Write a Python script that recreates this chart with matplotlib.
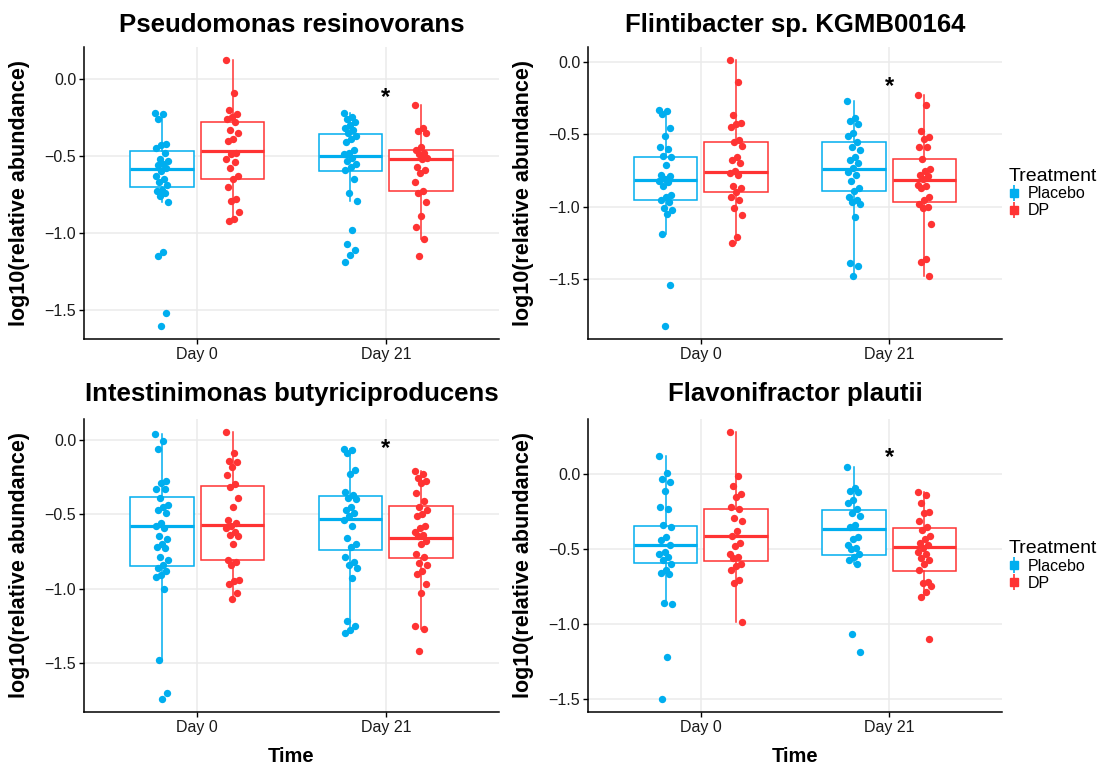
import numpy as np
import matplotlib
matplotlib.use("Agg")
import matplotlib.pyplot as plt
from matplotlib.lines import Line2D

plt.rcParams['font.family'] = ['Liberation Sans', 'DejaVu Sans']

# figure size in pixels
W, H = 1106, 767

days = ['Day 0', 'Day 21']
treatments = ['Placebo', 'DP']
blue = '#00AEEF'
red = '#FF3333'

titles = ['Pseudomonas resinovorans', 'Flintibacter sp. KGMB00164',
          'Intestinimonas butyriciproducens', 'Flavonifractor plautii']

# ---- points (log10 relative abundance) ----
# panel 1: Pseudomonas resinovorans
p1_pla_d0 = [-0.22, -0.23, -0.26, -0.42, -0.43, -0.45, -0.48, -0.52, -0.53, -0.55, -0.56, -0.58, -0.60,
             -0.63, -0.65, -0.67, -0.69, -0.72, -0.73, -0.74, -0.76, -0.80, -1.12, -1.15, -1.52, -1.60]
p1_dp_d0 = [0.12, -0.09, -0.20, -0.23, -0.25, -0.26, -0.28, -0.33, -0.35, -0.39, -0.40, -0.48, -0.49,
            -0.52, -0.54, -0.58, -0.63, -0.65, -0.70, -0.78, -0.79, -0.86, -0.91, -0.92]
p1_pla_d21 = [-0.22, -0.25, -0.26, -0.28, -0.30, -0.32, -0.33, -0.35, -0.37, -0.39, -0.41, -0.46, -0.48,
              -0.49, -0.51, -0.53, -0.55, -0.57, -0.59, -0.65, -0.74, -0.79, -0.98, -1.07, -1.11, -1.14, -1.19]
p1_dp_d21 = [-0.17, -0.32, -0.34, -0.35, -0.44, -0.46, -0.48, -0.49, -0.51, -0.52, -0.57, -0.59, -0.61,
             -0.67, -0.73, -0.74, -0.80, -0.89, -0.96, -1.04, -1.15]

# panel 2: Flintibacter sp. KGMB00164
p2_pla_d0 = [-0.33, -0.34, -0.36, -0.46, -0.51, -0.59, -0.60, -0.65, -0.66, -0.71, -0.78, -0.79, -0.81,
             -0.82, -0.83, -0.86, -0.92, -0.93, -0.95, -0.97, -1.01, -1.02, -1.05, -1.19, -1.54, -1.82]
p2_dp_d0 = [0.01, -0.14, -0.37, -0.42, -0.43, -0.45, -0.54, -0.55, -0.58, -0.66, -0.68, -0.70, -0.75,
            -0.77, -0.78, -0.86, -0.87, -0.90, -0.93, -0.95, -1.01, -1.06, -1.21, -1.25]
p2_pla_d21 = [-0.27, -0.39, -0.41, -0.43, -0.49, -0.51, -0.55, -0.59, -0.61, -0.66, -0.68, -0.70, -0.73,
              -0.76, -0.78, -0.82, -0.87, -0.89, -0.93, -0.95, -0.97, -0.98, -1.07, -1.39, -1.41, -1.48]
p2_dp_d21 = [-0.23, -0.30, -0.48, -0.52, -0.53, -0.59, -0.59, -0.67, -0.74, -0.75, -0.78, -0.79, -0.81,
             -0.85, -0.86, -0.87, -0.93, -0.95, -0.98, -1.00, -1.01, -1.12, -1.36, -1.38, -1.48]

# panel 3: Intestinimonas butyriciproducens
p3_pla_d0 = [0.04, -0.01, -0.06, -0.28, -0.29, -0.33, -0.33, -0.39, -0.44, -0.45, -0.47, -0.49, -0.56,
             -0.58, -0.59, -0.65, -0.67, -0.70, -0.72, -0.73, -0.79, -0.81, -0.84, -0.86, -0.88, -0.91,
             -0.92, -1.00, -1.48, -1.70, -1.74]
p3_dp_d0 = [0.05, -0.09, -0.14, -0.15, -0.18, -0.24, -0.30, -0.32, -0.39, -0.45, -0.54, -0.56, -0.58,
            -0.59, -0.62, -0.64, -0.65, -0.70, -0.81, -0.82, -0.84, -0.94, -0.95, -0.97, -1.03, -1.07]
p3_pla_d21 = [-0.06, -0.07, -0.09, -0.20, -0.23, -0.35, -0.37, -0.39, -0.40, -0.45, -0.47, -0.49, -0.51,
              -0.54, -0.58, -0.66, -0.70, -0.72, -0.79, -0.82, -0.84, -0.86, -0.93, -1.22, -1.25, -1.28, -1.30]
p3_dp_d21 = [-0.21, -0.23, -0.26, -0.28, -0.29, -0.36, -0.41, -0.45, -0.47, -0.50, -0.51, -0.58, -0.59,
             -0.62, -0.64, -0.65, -0.68, -0.70, -0.77, -0.79, -0.83, -0.84, -0.88, -0.90, -0.97, -1.03,
             -1.25, -1.27, -1.42]

# panel 4: Flavonifractor plautii
p4_pla_d0 = [0.12, 0.01, -0.03, -0.05, -0.11, -0.22, -0.23, -0.34, -0.35, -0.42, -0.44, -0.47, -0.52,
             -0.53, -0.55, -0.57, -0.60, -0.64, -0.66, -0.67, -0.86, -0.87, -1.22, -1.50]
p4_dp_d0 = [0.28, -0.01, -0.08, -0.13, -0.15, -0.22, -0.23, -0.29, -0.31, -0.38, -0.41, -0.46, -0.48,
            -0.53, -0.55, -0.56, -0.60, -0.61, -0.64, -0.71, -0.73, -0.99]
p4_pla_d21 = [0.05, -0.09, -0.11, -0.12, -0.17, -0.19, -0.23, -0.26, -0.28, -0.34, -0.35, -0.42, -0.43,
              -0.47, -0.49, -0.50, -0.53, -0.55, -0.57, -0.60, -1.07, -1.19]
p4_dp_d21 = [-0.12, -0.14, -0.19, -0.25, -0.26, -0.31, -0.35, -0.37, -0.41, -0.43, -0.46, -0.47, -0.49,
             -0.52, -0.53, -0.56, -0.57, -0.60, -0.64, -0.72, -0.73, -0.75, -0.79, -0.82, -1.10]

# ---- box statistics ----
# order: Placebo Day 0, DP Day 0, Placebo Day 21, DP Day 21
p1_q1 = [-0.70, -0.65, -0.60, -0.73]
p1_med = [-0.585, -0.47, -0.50, -0.52]
p1_q3 = [-0.47, -0.28, -0.355, -0.46]
p1_lo = [-0.80, -0.92, -0.79, -1.04]
p1_hi = [-0.22, 0.12, -0.22, -0.17]

p2_q1 = [-0.956, -0.90, -0.894, -0.968]
p2_med = [-0.816, -0.76, -0.742, -0.816]
p2_q3 = [-0.654, -0.553, -0.551, -0.673]
p2_lo = [-1.19, -1.25, -1.48, -1.48]
p2_hi = [-0.33, 0.01, -0.27, -0.23]

p3_q1 = [-0.85, -0.805, -0.744, -0.794]
p3_med = [-0.582, -0.571, -0.535, -0.659]
p3_q3 = [-0.388, -0.309, -0.377, -0.447]
p3_lo = [-1.48, -1.07, -1.30, -1.27]
p3_hi = [0.04, 0.05, -0.06, -0.21]

p4_q1 = [-0.593, -0.577, -0.539, -0.644]
p4_med = [-0.475, -0.41, -0.366, -0.484]
p4_q3 = [-0.343, -0.232, -0.236, -0.361]
p4_lo = [-0.87, -0.99, -0.60, -0.82]
p4_hi = [0.12, 0.28, 0.05, -0.12]

# height of the significance star over Day 21
star_y = [-0.12, -0.17, -0.06, 0.11]

panels = [
    ([p1_pla_d0, p1_dp_d0, p1_pla_d21, p1_dp_d21], [p1_q1, p1_med, p1_q3, p1_lo, p1_hi]),
    ([p2_pla_d0, p2_dp_d0, p2_pla_d21, p2_dp_d21], [p2_q1, p2_med, p2_q3, p2_lo, p2_hi]),
    ([p3_pla_d0, p3_dp_d0, p3_pla_d21, p3_dp_d21], [p3_q1, p3_med, p3_q3, p3_lo, p3_hi]),
    ([p4_pla_d0, p4_dp_d0, p4_pla_d21, p4_dp_d21], [p4_q1, p4_med, p4_q3, p4_lo, p4_hi]),
]


def rect(x0, y0, x1, y1):
    return [x0 / W, 1 - y1 / H, (x1 - x0) / W, (y1 - y0) / H]


axes_px = [(84, 47, 499, 339), (588, 47, 1002, 339), (84, 419, 499, 712), (588, 419, 1002, 712)]

fig = plt.figure(figsize=(W / 100, H / 100), dpi=100)

dodge = 0.1875
box_w = 0.3375
positions = [1 - dodge, 1 + dodge, 2 - dodge, 2 + dodge]
cols = [blue, red, blue, red]

for k, (pts, st) in enumerate(panels):
    x0, y0, x1, y1 = axes_px[k]
    ax = fig.add_axes(rect(x0, y0, x1, y1))
    q1, med, q3, lo, hi = st

    for i in range(4):
        c = cols[i]
        stats = [dict(med=med[i], q1=q1[i], q3=q3[i], whislo=lo[i], whishi=hi[i], fliers=[])]
        ax.bxp(stats, positions=[positions[i]], widths=box_w, showfliers=False, showcaps=False,
               patch_artist=True,
               boxprops=dict(facecolor='white', edgecolor=c, linewidth=1.1),
               medianprops=dict(color=c, linewidth=2.3, solid_capstyle='butt'),
               whiskerprops=dict(color=c, linewidth=1.1),
               manage_ticks=False, zorder=2)
        v = np.array(pts[i])
        # small fixed horizontal spread so the points do not sit on top of each other
        jit = ((np.arange(len(v)) * 0.618) % 1 - 0.5) * 0.07
        ax.scatter(positions[i] + jit, v, s=28, color=c, linewidths=0, zorder=3)

    allv = np.concatenate([np.array(p) for p in pts])
    lo_v, hi_v = allv.min(), allv.max()
    pad = (hi_v - lo_v) * 0.05
    ax.set_ylim(lo_v - pad, hi_v + pad)
    ax.set_xlim(0.4, 2.6)

    ax.text(2, star_y[k], '*', ha='center', va='center', fontsize=17, fontweight='bold', color='black')

    ax.set_xticks([1, 2])
    ax.set_xticklabels(days)
    yt = [0.0, -0.5, -1.0, -1.5]
    ax.set_yticks(yt)
    ax.set_yticklabels(['%.1f' % t if t == 0 else ('\u2212%.1f' % abs(t)) for t in yt])
    ax.grid(True, color='#EBEBEB', linewidth=1.1)
    ax.set_axisbelow(True)
    for s in ['top', 'right']:
        ax.spines[s].set_visible(False)
    for s in ['left', 'bottom']:
        ax.spines[s].set_linewidth(1.1)
        ax.spines[s].set_color('black')
    ax.tick_params(length=3.5, width=1.0, pad=2, labelsize=11.5, labelcolor='#1a1a1a')

    cx = (x0 + x1) / 2
    title_base = 32 if k < 2 else 401
    fig.text(cx / W, 1 - title_base / H, titles[k], ha='center', va='baseline',
             fontsize=18.5, fontweight='bold')
    ylx = 20 if k % 2 == 0 else 524
    fig.text(ylx / W, 1 - (y0 + y1) / 2 / H, 'log10(relative abundance)', rotation=90,
             ha='center', va='center', fontsize=15.5, fontweight='bold')
    if k >= 2:
        fig.text(cx / W, 1 - 756 / H, 'Time', ha='center', va='center', fontsize=14.5, fontweight='bold')
    if k % 2 == 1:
        handles = []
        for c in [blue, red]:
            handles.append((Line2D([], [], marker='|', ms=11, mew=1.2, color=c, ls=''),
                            Line2D([], [], marker='s', ms=6, color=c, ls='')))
        ax.legend(handles, treatments, title='Treatment', loc='center left', bbox_to_anchor=(1.0, 0.5),
                  frameon=False, alignment='left', fontsize=11.5, title_fontsize=14,
                  handlelength=0.7, handletextpad=0.5, labelspacing=0.1, borderaxespad=0.0)

fig.savefig('out.png', dpi=100)
